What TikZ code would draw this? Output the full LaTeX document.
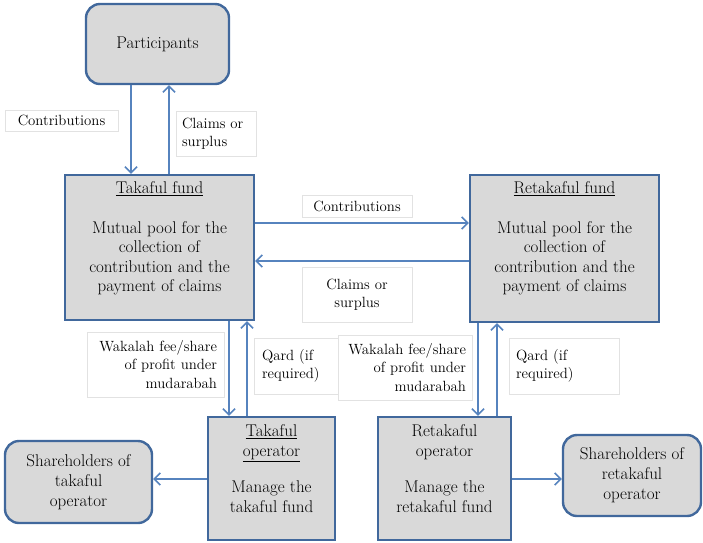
\documentclass[tikz,border=0pt]{standalone}
\usepackage{fontspec}
\usetikzlibrary{arrows.meta}
\definecolor{boxfill}{HTML}{D9D9D9}
\definecolor{boxline}{HTML}{41689C}
\definecolor{flow}{HTML}{5683BE}
\definecolor{tagline}{HTML}{E2E2E2}

\begin{document}
\begin{tikzpicture}[x=1pt,y=-1pt,
  box/.style={draw=boxline, line width=2.4pt, fill=boxfill, inner sep=0pt},
  roundbox/.style={box, rounded corners=14pt, font=\fontsize{17}{20}\selectfont, align=center},
  maintext/.style={font=\fontsize{17}{19.5}\selectfont, align=center, inner sep=0pt},
  tag/.style={draw=tagline, line width=0.8pt, fill=white, inner ysep=0pt,
              font=\fontsize{14.8}{18.5}\selectfont},
  flowline/.style={draw=flow, line width=2pt,
                   -{Straight Barb[length=6pt,width=12pt,line width=1.6pt]}}
]
\useasboundingbox (0,0) rectangle (703,542);

% ---- labels on the flows ----
\node[tag, minimum width=113pt, minimum height=21pt, align=center]
  (tagA) at (61.5,120.5) {Contributions};
\node[tag, minimum height=45pt, text width=68pt, inner xsep=6pt, align=left]
  (tagB) at (216,133.5) {Claims or\\surplus};
\node[tag, minimum width=110pt, minimum height=22pt, align=center]
  (tagC) at (357,206) {Contributions};
\node[tag, minimum width=110pt, minimum height=55pt, align=center]
  (tagD) at (357,294.5) {Claims or\\surplus};
\node[tag, minimum height=65pt, text width=123pt, inner xsep=7pt, align=right]
  (tagE) at (155.5,364.5) {Wakalah fee/share\\of profit under\\mudarabah};
\node[tag, minimum height=56pt, text width=70pt, inner xsep=8pt, align=left]
  (tagF) at (297,366) {Qard (if\\required)};
\node[tag, minimum height=65pt, text width=122pt, inner xsep=6pt, align=right]
  (tagG) at (405,367.5) {Wakalah fee/share\\of profit under\\mudarabah};
\node[tag, minimum height=56pt, text width=96pt, inner xsep=7pt, align=left]
  (tagH) at (564,366) {Qard (if\\required)};

% ---- main boxes ----
\node[roundbox, minimum width=143pt, minimum height=80pt]
  (part) at (157.5,44) {Participants};

\node[box, minimum width=189pt, minimum height=145pt] (tfund) at (159.5,247.5) {};
\node[maintext, anchor=north] (tfundtxt) at ([yshift=-8pt]tfund.north)
  {\underline{Takaful fund}\\[20pt]Mutual pool for the\\collection of\\contribution and the\\payment of claims};

\node[box, minimum width=189pt, minimum height=147pt] (rfund) at (564.5,248.5) {};
\node[maintext, anchor=north] (rfundtxt) at ([yshift=-8pt]rfund.north)
  {\underline{Retakaful fund}\\[20pt]Mutual pool for the\\collection of\\contribution and the\\payment of claims};

\node[box, minimum width=127pt, minimum height=123pt] (top) at (271.5,478.5) {};
\node[maintext, anchor=north] (toptxt) at ([yshift=-9pt]top.north)
  {\underline{Takaful}\\\underline{operator}\\[17pt]Manage the\\takaful fund};

\node[box, minimum width=133pt, minimum height=123pt] (rop) at (444.5,478.5) {};
\node[maintext, anchor=north] (roptxt) at ([yshift=-9pt]rop.north)
  {Retakaful\\operator\\[17pt]Manage the\\retakaful fund};

\node[roundbox, minimum width=147pt, minimum height=82pt]
  (shT) at (78.5,482) {Shareholders of\\takaful\\operator};
\node[roundbox, minimum width=138pt, minimum height=81pt]
  (shR) at (632,475.5) {Shareholders of\\retakaful\\operator};

% ---- flows ----
\draw[flowline] ([xshift=-26.5pt]part.south) -- ([xshift=-28.5pt]tfund.north);
\draw[flowline] ([xshift=9.5pt]tfund.north) -- ([xshift=11.5pt]part.south);

\draw[flowline] ([yshift=24.5pt]tfund.east) -- ([yshift=25.5pt]rfund.west);
\draw[flowline] ([yshift=-12.5pt]rfund.west) -- ([yshift=-13.5pt]tfund.east);

\draw[flowline] ([xshift=69.5pt]tfund.south) -- ([xshift=-42.5pt]top.north);
\draw[flowline] ([xshift=-24.5pt]top.north) -- ([xshift=87.5pt]tfund.south);

\draw[flowline] ([xshift=-86.5pt]rfund.south) -- ([xshift=33.5pt]rop.north);
\draw[flowline] ([xshift=52.5pt]rop.north) -- ([xshift=-67.5pt]rfund.south);

\draw[flowline] ([yshift=-0.5pt]top.west) -- ([yshift=3pt]shT.east);
\draw[flowline] ([yshift=-0.5pt]rop.east) -- ([yshift=-3.5pt]shR.west);
\end{tikzpicture}
\end{document}
